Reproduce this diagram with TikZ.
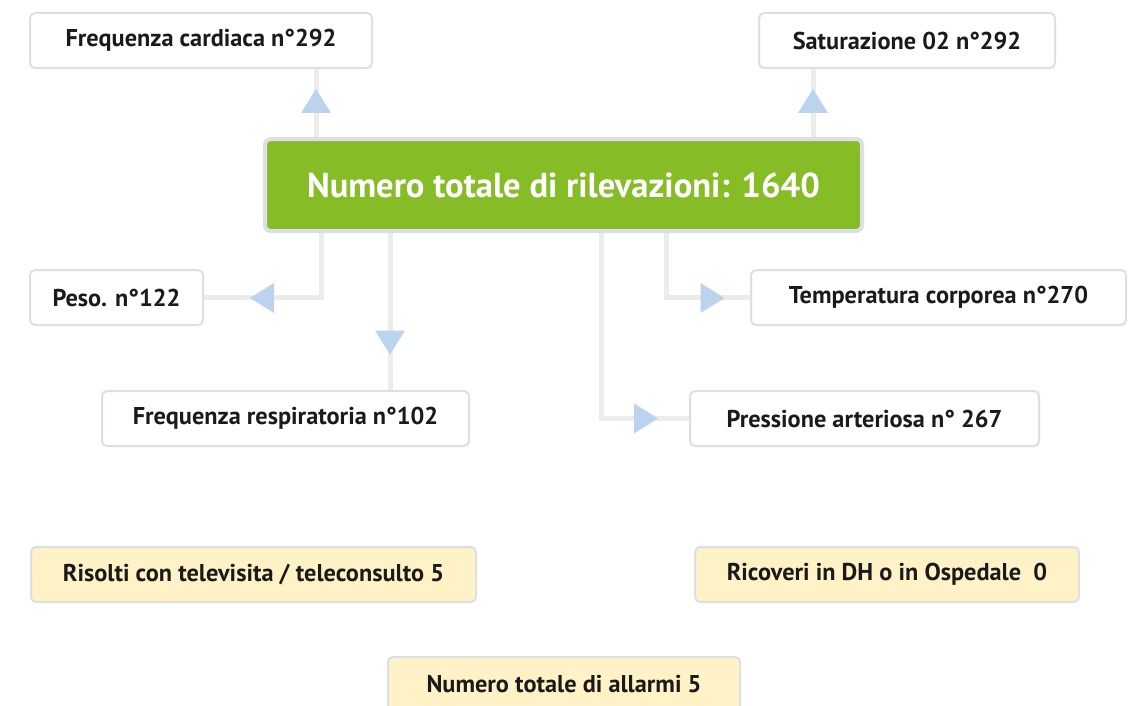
\documentclass[tikz,border=0pt]{standalone}
\usepackage{fontspec}
\setmainfont{PT Sans}
\usetikzlibrary{calc,backgrounds}
\definecolor{boxborder}{HTML}{DCDFE3}
\definecolor{greenfill}{HTML}{86BC25}
\definecolor{yelfill}{HTML}{FFF2C6}
\definecolor{conncol}{HTML}{ECECEC}
\definecolor{tricol}{HTML}{BCD3EE}
\definecolor{txt}{HTML}{1A1A1A}
\tikzset{
  x=1pt, y=-1pt,
  basebox/.style={draw=boxborder, line width=2pt, rounded corners=5pt, inner sep=0pt,
    minimum height=55pt, text=txt, font=\fontsize{24.3}{28}\selectfont\bfseries},
  whitebox/.style={basebox, fill=white},
  yelbox/.style={basebox, fill=yelfill},
  mainbox/.style={draw=boxborder, line width=4pt, rounded corners=6pt, fill=greenfill, inner sep=0pt,
    minimum width=597pt, minimum height=92pt, text=white, font=\fontsize{34.6}{40}\selectfont\bfseries},
  conn/.style={draw=conncol, line width=5pt},
  arrowtri/.style={fill=tricol},
}
\newcommand\arrowmark[2]{\fill[arrowtri, shift={(#1)}, rotate=#2] (12,0) -- (-12,15) -- (-12,-15) -- cycle;}
\begin{document}
\begin{tikzpicture}
\useasboundingbox (0,0) rectangle (1129,706);
\node[mainbox] (green) at (563.5,185) {Numero totale di rilevazioni: 1640};
\node[whitebox, minimum width=342pt] (fc) at (201,40.5) {Frequenza cardiaca n°292};
\node[whitebox, minimum width=296pt] (sat) at (907,40.5) {Saturazione 02 n°292};
\node[whitebox, minimum width=173pt] (peso) at (116.5,297.5) {Peso. n°122};
\node[whitebox, minimum width=367pt] (fr) at (285.5,418.5) {Frequenza respiratoria n°102};
\node[whitebox, minimum width=375pt] (temp) at (938.5,297.5) {Temperatura corporea n°270};
\node[whitebox, minimum width=349pt] (press) at (864.5,418.5) {Pressione arteriosa n° 267};
\node[yelbox, minimum width=445pt] (ris) at (253.5,574.5) {Risolti con televisita / teleconsulto 5};
\node[yelbox, minimum width=384pt] (ric) at (887,574.5) {Ricoveri in DH o in Ospedale\ \ 0};
\node[yelbox, minimum width=352pt] (all) at (564,684.5) {Numero totale di allarmi 5};
\coordinate (x1) at (316,0);
\coordinate (x2) at (813,0);
\coordinate (x3) at (321,0);
\coordinate (x4) at (390,0);
\coordinate (x5) at (601,0);
\coordinate (x6) at (666,0);
\coordinate (t1) at (316,101);
\coordinate (t2) at (813,101);
\coordinate (t3) at (262,298);
\coordinate (t4) at (390,342.5);
\coordinate (t5) at (712.5,298);
\coordinate (t6) at (646,418.5);
\begin{scope}[on background layer]
\fill[white] (0,0) rectangle (1129,706);
\draw[conn] (green.north -| x1) -- (fc.south -| x1);
\draw[conn] (green.north -| x2) -- (sat.south -| x2);
\draw[conn] (green.south -| x3) |- (peso.east);
\draw[conn] (green.south -| x4) -- (fr.north -| x4);
\draw[conn] (green.south -| x5) |- (press.west);
\draw[conn] (green.south -| x6) |- (temp.west);
\end{scope}
\arrowmark{t1}{90}
\arrowmark{t2}{90}
\arrowmark{t3}{180}
\arrowmark{t4}{-90}
\arrowmark{t5}{0}
\arrowmark{t6}{0}
\end{tikzpicture}
\end{document}
